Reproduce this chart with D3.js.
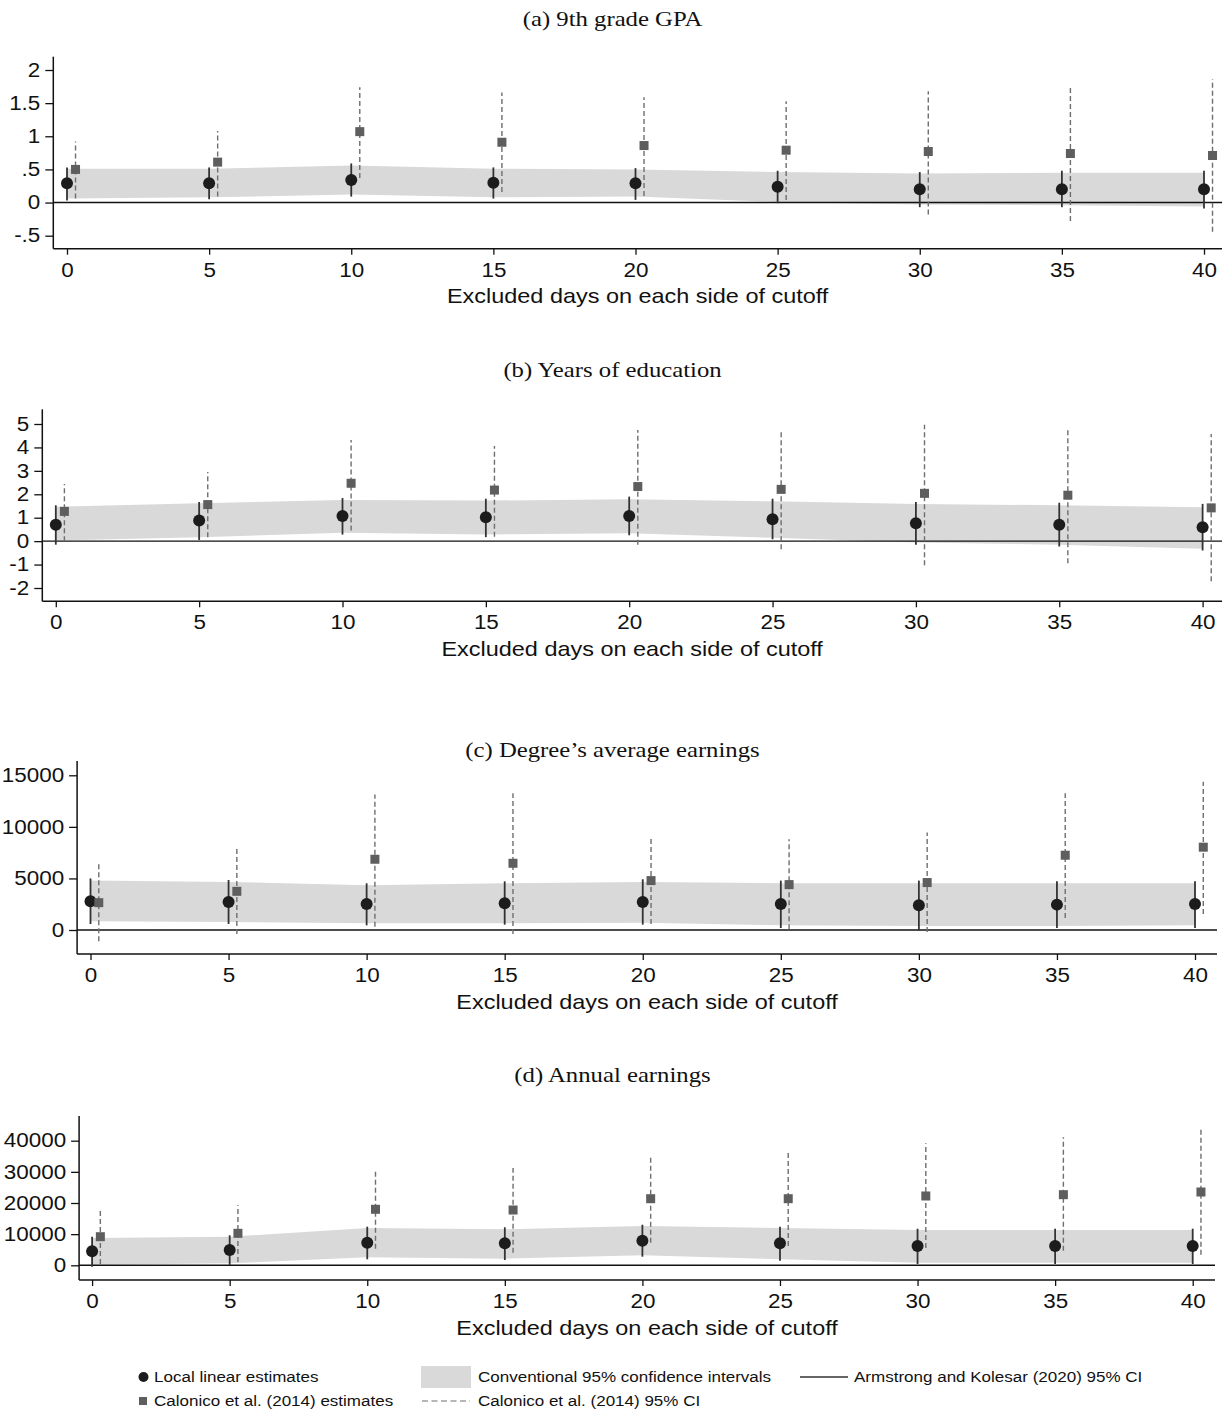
<!DOCTYPE html>
<html>
<head>
<meta charset="utf-8">
<script src="https://cdn.jsdelivr.net/npm/d3@7"></script>
<style>
  body { margin: 0; background: #fff; }
</style>
</head>
<body>
<svg id="fig" width="1225" height="1413"></svg>
<script>
// Excluded days on each side of the cutoff (x values)
const days = [0, 5, 10, 15, 20, 25, 30, 35, 40];
const xTickValues = [0, 5, 10, 15, 20, 25, 30, 35, 40];
// Calonico et al. markers are nudged right of the local linear ones
const ccShift = 0.3;

// (a) 9th grade GPA
const gpaEst    = [0.29, 0.29, 0.34, 0.30, 0.29, 0.24, 0.20, 0.20, 0.20];
const gpaAkLo   = [0.03, 0.05, 0.09, 0.06, 0.04, -0.01, -0.07, -0.07, -0.09];
const gpaAkHi   = [0.53, 0.53, 0.59, 0.53, 0.52, 0.48, 0.46, 0.48, 0.48];
const gpaConvLo = [0.06, 0.08, 0.12, 0.08, 0.09, 0.01, -0.03, -0.04, -0.06];
const gpaConvHi = [0.51, 0.51, 0.56, 0.51, 0.50, 0.46, 0.44, 0.45, 0.45];
const gpaCcEst  = [0.50, 0.61, 1.07, 0.91, 0.86, 0.79, 0.77, 0.74, 0.71];
const gpaCcLo   = [0.06, 0.09, 0.37, 0.16, 0.10, 0.04, -0.18, -0.28, -0.44];
const gpaCcHi   = [0.92, 1.08, 1.74, 1.66, 1.59, 1.53, 1.68, 1.77, 1.86];
const gpaTicks  = [-0.5, 0, 0.5, 1, 1.5, 2];
const gpaTickLabels = ["-.5", "0", ".5", "1", "1.5", "2"];

// (b) Years of education
const eduEst    = [0.70, 0.88, 1.07, 1.02, 1.07, 0.93, 0.76, 0.70, 0.59];
const eduAkLo   = [-0.15, 0.05, 0.28, 0.17, 0.25, 0.08, -0.15, -0.23, -0.40];
const eduAkHi   = [1.53, 1.67, 1.84, 1.81, 1.90, 1.81, 1.67, 1.64, 1.59];
const eduConvLo = [0.03, 0.17, 0.36, 0.28, 0.34, 0.14, -0.06, -0.15, -0.32];
const eduConvHi = [1.47, 1.62, 1.76, 1.73, 1.79, 1.70, 1.59, 1.53, 1.45];
const eduCcEst  = [1.27, 1.56, 2.47, 2.18, 2.33, 2.21, 2.04, 1.96, 1.42];
const eduCcLo   = [0.00, 0.17, 0.45, 0.19, -0.15, -0.35, -1.03, -0.94, -1.71];
const eduCcHi   = [2.44, 2.95, 4.32, 4.06, 4.74, 4.77, 4.97, 4.83, 4.57];
const eduTicks  = [-2, -1, 0, 1, 2, 3, 4, 5];
const eduTickLabels = ["-2", "-1", "0", "1", "2", "3", "4", "5"];

// (c) Degree's average earnings
const degEst    = [2780, 2720, 2520, 2590, 2720, 2520, 2400, 2460, 2520];
const degAkLo   = [580, 580, 450, 520, 520, 190, -30, 190, 190];
const degAkHi   = [5000, 4850, 4530, 4720, 4920, 4790, 4790, 4720, 4720];
const degConvLo = [840, 780, 650, 650, 710, 450, 390, 390, 450];
const degConvHi = [4790, 4660, 4340, 4530, 4660, 4530, 4530, 4530, 4530];
const degCcEst  = [2650, 3750, 6860, 6470, 4790, 4400, 4600, 7250, 8030];
const degCcLo   = [-1100, -390, 320, -390, 580, 65, -190, 1170, 1550];
const degCcHi   = [6410, 7960, 13140, 13270, 9060, 8800, 9450, 13270, 14370];
const degTicks  = [0, 5000, 10000, 15000];
const degTickLabels = ["0", "5000", "10000", "15000"];

// (d) Annual earnings
const annEst    = [4490, 4910, 7260, 7060, 7900, 7060, 6200, 6200, 6200];
const annAkLo   = [-450, 100, 1930, 1700, 2760, 1480, 420, 420, 420];
const annAkHi   = [9180, 9630, 12390, 12200, 13030, 12390, 11750, 11750, 11750];
const annConvLo = [200, 640, 2570, 2120, 3210, 1930, 840, 840, 840];
const annConvHi = [8760, 9180, 11970, 11560, 12620, 11970, 11330, 11330, 11330];
const annCcEst  = [9180, 10270, 17980, 17750, 21380, 21380, 22250, 22670, 23530];
const annCcLo   = [420, 1060, 5330, 4050, 7260, 6200, 5550, 4690, 3400];
const annCcHi   = [17980, 19260, 30180, 31240, 35310, 36600, 39170, 41090, 43660];
const annTicks  = [0, 10000, 20000, 30000, 40000];
const annTickLabels = ["0", "10000", "20000", "30000", "40000"];

const panelTitles = ["(a) 9th grade GPA", "(b) Years of education",
                     "(c) Degree\u2019s average earnings", "(d) Annual earnings"];
const xAxisTitle = "Excluded days on each side of cutoff";
const legendLabels = ["Local linear estimates", "Conventional 95% confidence intervals",
                      "Armstrong and Kolesar (2020) 95% CI", "Calonico et al. (2014) estimates",
                      "Calonico et al. (2014) 95% CI"];

const panels = [
  { est: gpaEst, akLo: gpaAkLo, akHi: gpaAkHi, convLo: gpaConvLo, convHi: gpaConvHi,
    ccEst: gpaCcEst, ccLo: gpaCcLo, ccHi: gpaCcHi, yTicks: gpaTicks, yLabels: gpaTickLabels },
  { est: eduEst, akLo: eduAkLo, akHi: eduAkHi, convLo: eduConvLo, convHi: eduConvHi,
    ccEst: eduCcEst, ccLo: eduCcLo, ccHi: eduCcHi, yTicks: eduTicks, yLabels: eduTickLabels },
  { est: degEst, akLo: degAkLo, akHi: degAkHi, convLo: degConvLo, convHi: degConvHi,
    ccEst: degCcEst, ccLo: degCcLo, ccHi: degCcHi, yTicks: degTicks, yLabels: degTickLabels },
  { est: annEst, akLo: annAkLo, akHi: annAkHi, convLo: annConvLo, convHi: annConvHi,
    ccEst: annCcEst, ccLo: annCcLo, ccHi: annCcHi, yTicks: annTicks, yLabels: annTickLabels }
];

// Page geometry of each panel: axis placement and the pixel rows of two reference ticks
const frames = [
  { left: 53.3, x0: 67.0, x40: 1204.0, right: 1222, top: 56.7,  bottom: 248.7,
    vLo: -0.5, pLo: 235.7, vHi: 2,     pHi: 70.0,   titleY: 26 },
  { left: 42.3, x0: 55.8, x40: 1202.6, right: 1222, top: 409.3, bottom: 601.3,
    vLo: -2,   pLo: 588.0, vHi: 5,     pHi: 424.0,  titleY: 377 },
  { left: 77.1, x0: 90.5, x40: 1195.0, right: 1217, top: 761.0, bottom: 954.0,
    vLo: 0,    pLo: 930.0, vHi: 15000, pHi: 775.3,  titleY: 757 },
  { left: 79.1, x0: 92.1, x40: 1192.7, right: 1215, top: 1116.0, bottom: 1280.0,
    vLo: 0,    pLo: 1265.3, vHi: 40000, pHi: 1140.7, titleY: 1082 }
];

const SANS = "'Liberation Sans', Arial, Helvetica, sans-serif";
const SERIF = "'Liberation Serif', 'Times New Roman', serif";
const WIDEN = 1.15;   // lettering in this figure is set slightly wide

const C = {
  band: "#d9d9d9", axis: "#111", zero: "#111", ak: "#333", cc: "#6e6e6e",
  dot: "#1c1c1c", square: "#5e5e5e", text: "#111"
};

const svg = d3.select("#fig");

// Widen text horizontally around its own anchor point
function widen(sel, k) {
  sel.each(function () {
    const t = d3.select(this);
    const tx = +t.attr("x") || 0, ty = +t.attr("y") || 0;
    t.attr("x", 0).attr("y", 0).attr("transform", `translate(${tx},${ty}) scale(${k},1)`);
  });
}

function drawPanel(p, f, title) {
  const g = svg.append("g");
  const x = d3.scaleLinear().domain([0, 40]).range([f.x0, f.x40]);
  const y = d3.scaleLinear().domain([f.vLo, f.vHi]).range([f.pLo, f.pHi]);
  const idx = d3.range(days.length);

  // Conventional 95% confidence band
  const band = d3.area()
    .x(i => x(days[i]))
    .y0(i => y(p.convLo[i]))
    .y1(i => y(p.convHi[i]));
  g.append("path").datum(idx).attr("d", band).attr("fill", C.band);

  // Reference line at zero
  g.append("line")
    .attr("x1", f.left).attr("x2", f.right)
    .attr("y1", y(0)).attr("y2", y(0))
    .attr("stroke", C.zero).attr("stroke-width", 1.4);

  // Armstrong–Kolesar intervals (solid)
  g.append("g").selectAll("line").data(idx).join("line")
    .attr("x1", i => x(days[i])).attr("x2", i => x(days[i]))
    .attr("y1", i => y(p.akLo[i])).attr("y2", i => y(p.akHi[i]))
    .attr("stroke", C.ak).attr("stroke-width", 1.8);

  // Calonico et al. intervals (dashed)
  g.append("g").selectAll("line").data(idx).join("line")
    .attr("x1", i => x(days[i] + ccShift)).attr("x2", i => x(days[i] + ccShift))
    .attr("y1", i => y(p.ccLo[i])).attr("y2", i => y(p.ccHi[i]))
    .attr("stroke", C.cc).attr("stroke-width", 1.4)
    .attr("stroke-dasharray", "5,3");

  // Local linear point estimates
  g.append("g").selectAll("circle").data(idx).join("circle")
    .attr("cx", i => x(days[i])).attr("cy", i => y(p.est[i]))
    .attr("r", 6).attr("fill", C.dot);

  // Calonico et al. point estimates
  const s = 9;
  g.append("g").selectAll("rect").data(idx).join("rect")
    .attr("x", i => x(days[i] + ccShift) - s / 2).attr("y", i => y(p.ccEst[i]) - s / 2)
    .attr("width", s).attr("height", s).attr("fill", C.square);

  // Y axis
  const yAxis = d3.axisLeft(y).tickValues(p.yTicks)
    .tickFormat((d, i) => p.yLabels[i]).tickSize(8).tickPadding(5);
  const ga = g.append("g").attr("transform", `translate(${f.left},0)`).call(yAxis);
  ga.select(".domain").remove();
  ga.selectAll(".tick line").attr("stroke", C.axis).attr("stroke-width", 1.3);
  ga.selectAll(".tick text").attr("fill", C.text)
    .attr("font-family", SANS).attr("font-size", 19.5);
  widen(ga.selectAll(".tick text"), WIDEN);
  g.append("line").attr("x1", f.left).attr("x2", f.left)
    .attr("y1", f.top).attr("y2", f.bottom)
    .attr("stroke", C.axis).attr("stroke-width", 1.5);

  // X axis
  const xAxis = d3.axisBottom(x).tickValues(xTickValues).tickSize(6).tickPadding(8);
  const gx = g.append("g").attr("transform", `translate(0,${f.bottom})`).call(xAxis);
  gx.select(".domain").remove();
  gx.selectAll(".tick line").attr("stroke", C.axis).attr("stroke-width", 1.3);
  gx.selectAll(".tick text").attr("fill", C.text)
    .attr("font-family", SANS).attr("font-size", 19.5);
  widen(gx.selectAll(".tick text"), WIDEN);
  g.append("line").attr("x1", f.left).attr("x2", f.right)
    .attr("y1", f.bottom).attr("y2", f.bottom)
    .attr("stroke", C.axis).attr("stroke-width", 1.5);

  // Axis title
  const xt = g.append("text")
    .attr("x", (f.left + f.right) / 2).attr("y", f.bottom + 54.6)
    .attr("text-anchor", "middle").attr("font-family", SANS)
    .attr("font-size", 20.4).attr("fill", C.text).text(xAxisTitle);
  widen(xt, WIDEN);

  // Panel title
  const tt = svg.append("text")
    .attr("x", 612.5).attr("y", f.titleY)
    .attr("text-anchor", "middle").attr("font-family", SERIF)
    .attr("font-size", 21.5).attr("fill", C.text).text(title);
  widen(tt, WIDEN);
}

panels.forEach((p, i) => drawPanel(p, frames[i], panelTitles[i]));

// Legend
const lg = svg.append("g").attr("font-family", SANS).attr("font-size", 14.8).attr("fill", C.text);
const row1 = 1377, row2 = 1401;
lg.append("circle").attr("cx", 143.5).attr("cy", row1).attr("r", 5).attr("fill", C.dot);
lg.append("rect").attr("x", 421).attr("y", 1366).attr("width", 50).attr("height", 22).attr("fill", C.band);
lg.append("line").attr("x1", 800).attr("x2", 848).attr("y1", row1).attr("y2", row1)
  .attr("stroke", C.ak).attr("stroke-width", 1.5);
lg.append("rect").attr("x", 139).attr("y", row2 - 4).attr("width", 8).attr("height", 8).attr("fill", C.square);
lg.append("line").attr("x1", 422).attr("x2", 470).attr("y1", row2).attr("y2", row2)
  .attr("stroke", C.cc).attr("stroke-width", 1.2).attr("stroke-dasharray", "6,3.5");

const legendPos = [[154, row1], [478, row1], [854, row1], [154, row2], [478, row2]];
legendLabels.forEach((lab, i) => {
  const t = lg.append("text").attr("x", legendPos[i][0]).attr("y", legendPos[i][1] + 5.2).text(lab);
  widen(t, WIDEN);
});
</script>
</body>
</html>
